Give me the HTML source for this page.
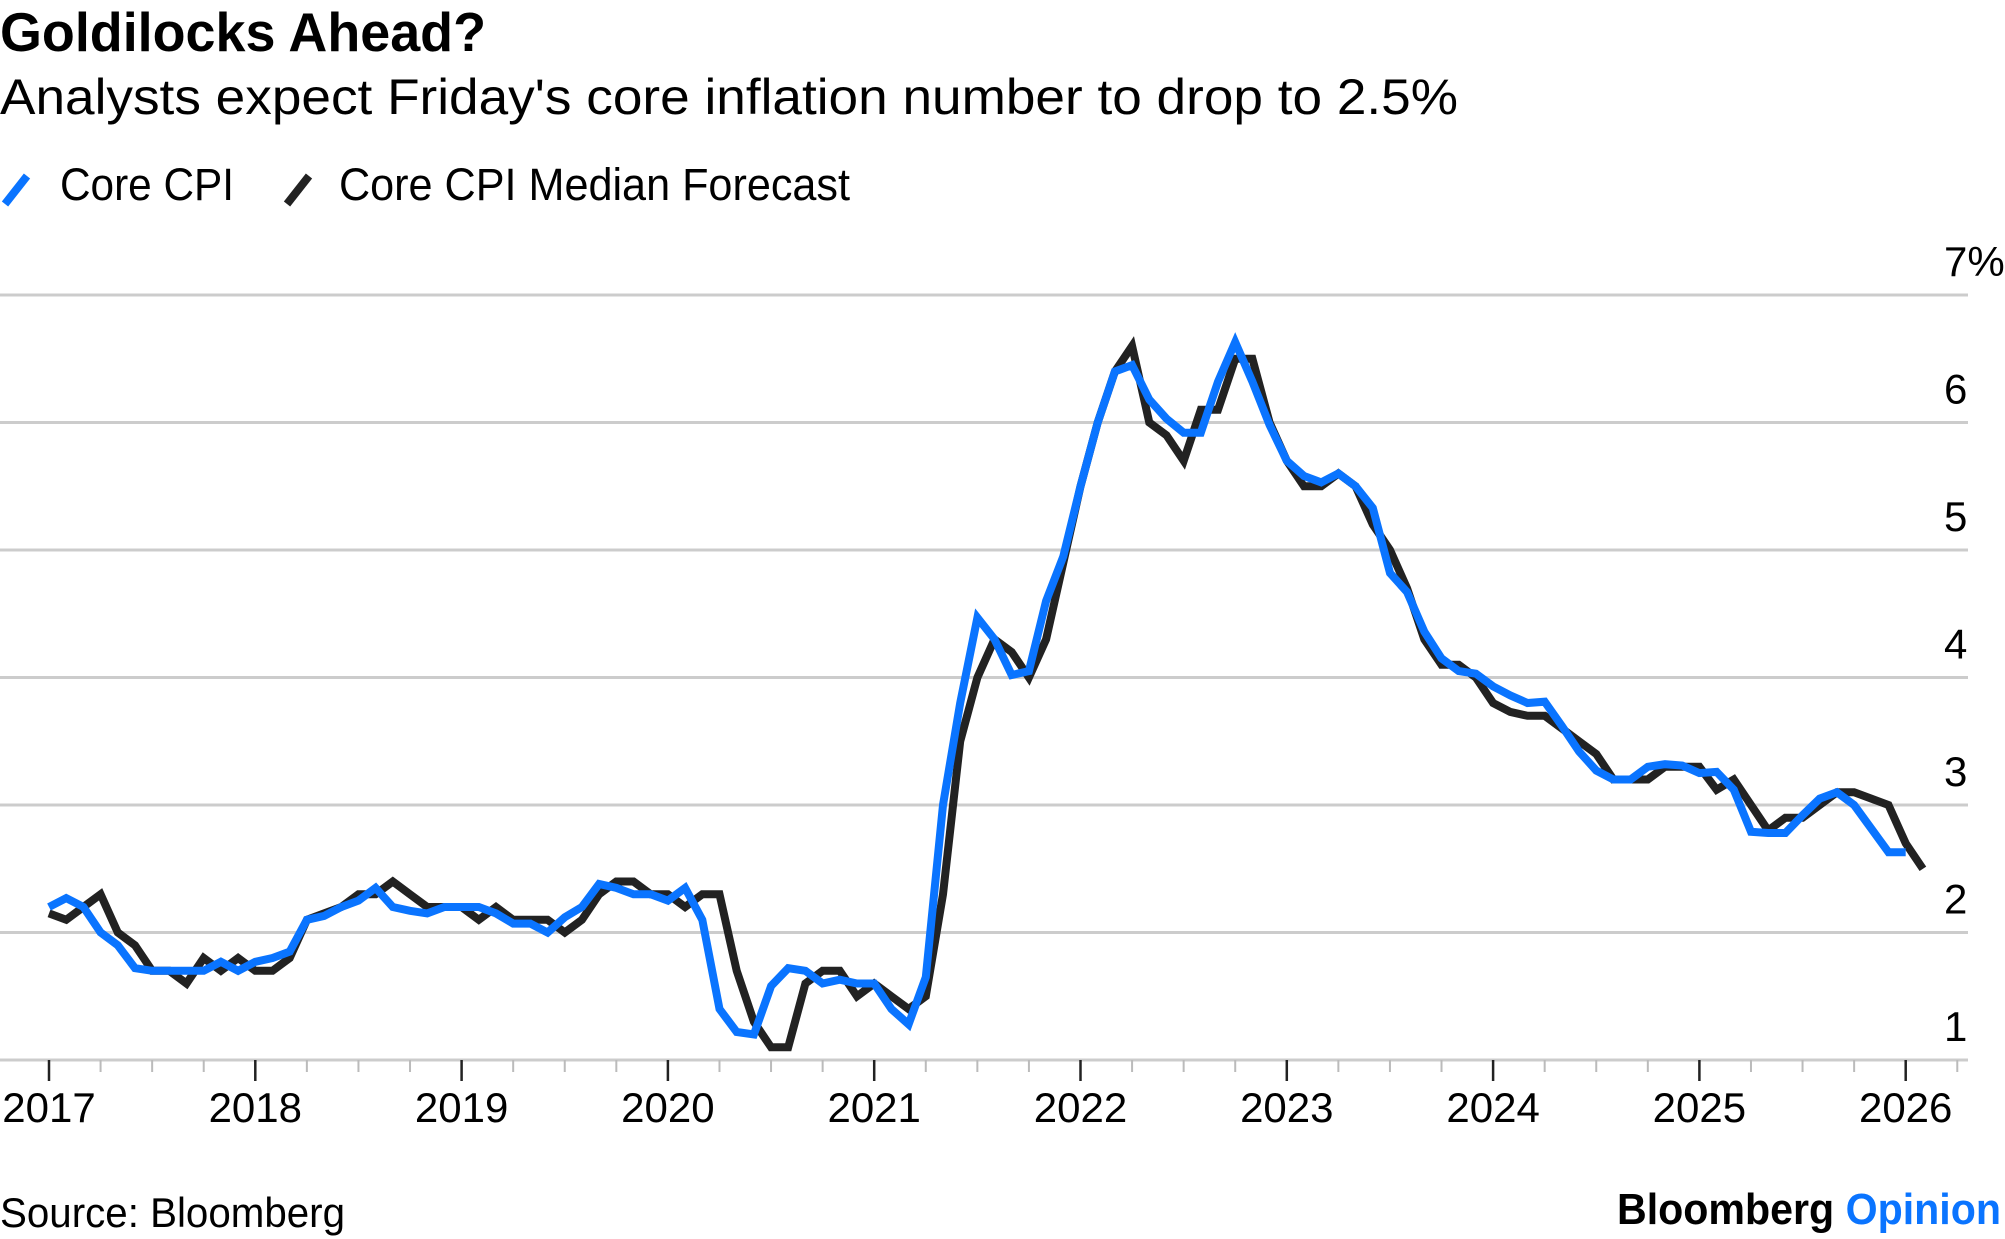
<!DOCTYPE html>
<html><head><meta charset="utf-8"><style>
html,body{margin:0;padding:0;background:#fff;}
svg{display:block;font-family:"Liberation Sans",Arial,sans-serif;}
</style></head><body>
<svg id="chart" width="2005" height="1239" viewBox="0 0 2005 1239" xmlns="http://www.w3.org/2000/svg">
<text x="0" y="51" font-size="55" font-weight="bold" fill="#000" textLength="486" lengthAdjust="spacingAndGlyphs">Goldilocks Ahead?</text>
<text x="0" y="114" font-size="50" fill="#000" textLength="1458" lengthAdjust="spacingAndGlyphs">Analysts expect Friday's core inflation number to drop to 2.5%</text>
<g>
 <g>
  <line x1="5" y1="204" x2="27" y2="176" stroke="#0a74ff" stroke-width="8"/>
  <text x="60" y="200" font-size="45" fill="#000" textLength="174" lengthAdjust="spacingAndGlyphs">Core CPI</text>
 </g>
 <g>
  <line x1="287" y1="204" x2="309" y2="176" stroke="#222" stroke-width="8"/>
  <text x="339" y="200" font-size="45" fill="#000" textLength="511" lengthAdjust="spacingAndGlyphs">Core CPI Median Forecast</text>
 </g>
</g>
<g id="grid"></g>
<g id="yaxis"></g>
<g id="xaxis"></g>
<g id="series"></g>
<text x="0" y="1227" font-size="42" fill="#000" textLength="345" lengthAdjust="spacingAndGlyphs">Source: Bloomberg</text>
<text x="2001" y="1224" font-size="44" font-weight="bold" text-anchor="end" fill="#000" textLength="384" lengthAdjust="spacingAndGlyphs">Bloomberg <tspan fill="#0a74ff">Opinion</tspan></text>
</svg>
<script>
// monthly data starting Dec 2016
const yTicks = [1,2,3,4,5,6,7];
const xYears = [2017,2018,2019,2020,2021,2022,2023,2024,2025,2026];
const coreCPI = [2.2,
 2.27,2.2,2.0,1.9,1.72,1.7,1.7,1.7,1.7,1.77,1.7,1.77,
 1.8,1.85,2.1,2.13,2.2,2.25,2.35,2.2,2.17,2.15,2.2,2.2,
 2.2,2.15,2.07,2.07,2.0,2.12,2.2,2.38,2.35,2.3,2.3,2.25,
 2.35,2.1,1.4,1.22,1.2,1.58,1.72,1.7,1.6,1.63,1.6,1.6,
 1.4,1.28,1.65,3.0,3.8,4.47,4.3,4.02,4.05,4.6,4.95,5.5,
 6.0,6.4,6.45,6.18,6.03,5.92,5.92,6.32,6.63,6.32,5.98,5.7,
 5.58,5.53,5.6,5.5,5.33,4.82,4.67,4.36,4.15,4.05,4.03,3.93,
 3.86,3.8,3.81,3.62,3.42,3.27,3.2,3.2,3.3,3.32,3.31,3.25,
 3.26,3.12,2.79,2.78,2.78,2.92,3.05,3.1,3.0,null,2.63,2.63];
const forecast = [2.15,
 2.1,2.2,2.3,2.0,1.9,1.7,1.7,1.6,1.8,1.7,1.8,1.7,
 1.7,1.8,2.1,2.15,2.2,2.3,2.3,2.4,2.3,2.2,2.2,2.2,
 2.1,2.2,2.1,2.1,2.1,2.0,2.1,2.3,2.4,2.4,2.3,2.3,
 2.2,2.3,2.3,1.7,1.3,1.1,1.1,1.6,1.7,1.7,1.5,1.6,
 1.5,1.4,1.5,2.3,3.5,4.0,4.3,4.2,4.0,4.3,4.9,5.5,
 6.0,6.4,6.6,6.0,5.9,5.7,6.1,6.1,6.5,6.5,6.0,5.7,
 5.5,5.5,5.6,5.5,5.2,5.0,4.7,4.3,4.1,4.1,4.0,3.8,
 3.73,3.7,3.7,3.6,3.5,3.4,3.2,3.2,3.2,3.3,3.3,3.3,
 3.12,3.2,3.0,2.8,2.9,2.9,3.0,3.1,3.1,3.05,3.0,2.7,
 2.5];
const NS='http://www.w3.org/2000/svg';
const X0=49, PX_YEAR=206.3, Y1=1060, PX_UNIT=127.5, GRID_R=1968;
function xScale(t){return X0+PX_YEAR*t;}
function xMonth(i){return xScale(i/12);}
function yScale(v){return Y1-(v-1)*PX_UNIT;}
function mk(tag,attrs,parent){const e=document.createElementNS(NS,tag);for(const k in attrs)e.setAttribute(k,attrs[k]);parent.appendChild(e);return e;}
const grid=document.getElementById('grid'), yaxis=document.getElementById('yaxis'), xaxis=document.getElementById('xaxis'), series=document.getElementById('series');
yTicks.forEach((v,k)=>{
 const y=yScale(v);
 const ln=mk('line',{x1:0,x2:GRID_R,y1:y,y2:y,stroke:'#cccccc','stroke-width':3},grid);
 
 
 const last=k===yTicks.length-1;
 const t=mk('text',{x:GRID_R-24,y:y-19,'font-size':42,fill:'#000'},yaxis);
 
 
 t.textContent=String(v)+(last?'%':'');
});
for(let q=0;q<=(xYears.length-1)*4+1;q++){
 const x=xScale(q/4); if(x>GRID_R)break;
 const major=q%4===0;
 const tk=mk('line',{x1:x,x2:x,y1:Y1,y2:Y1+(major?21:12),stroke:major?'#222':'#bbb','stroke-width':major?2.5:2},xaxis);
 
 
}
xYears.forEach((yr,k)=>{
 const t=mk('text',{x:xScale(k),y:1122,'font-size':42,'text-anchor':'middle',fill:'#000'},xaxis);
 
 
 t.textContent=yr;
});
function pathFor(arr){let d='';arr.forEach((v,i)=>{if(v===null)return;d+=(d?'L':'M')+xMonth(i).toFixed(1)+','+yScale(v).toFixed(1);});return d;}
const pf=mk('path',{d:pathFor(forecast),fill:'none',stroke:'#222','stroke-width':8,'stroke-linejoin':'miter','stroke-miterlimit':3},series);


const pc=mk('path',{d:pathFor(coreCPI),fill:'none',stroke:'#0a74ff','stroke-width':8,'stroke-linejoin':'miter','stroke-miterlimit':3},series);


</script>
</body></html>
